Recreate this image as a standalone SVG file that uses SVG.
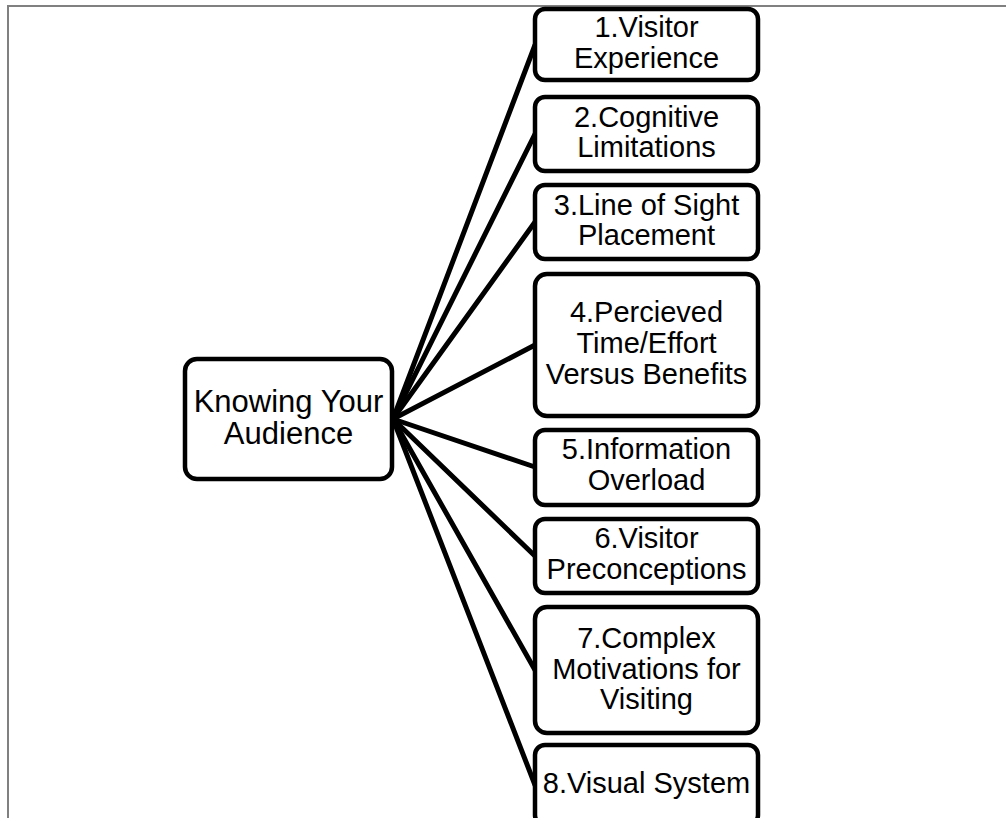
<svg xmlns="http://www.w3.org/2000/svg" width="1006" height="818" viewBox="0 0 1006 818">
<style>
.box{fill:#fff;stroke:#000;stroke-width:4.5}
.t{font-family:"Liberation Sans",Arial,sans-serif;font-size:29px;fill:#000;text-anchor:middle}
.c{font-size:31px}
.e{stroke:#000;stroke-width:5;fill:none;stroke-linecap:round}
</style>
<rect width="1006" height="818" fill="#fff"/>
<path d="M8 818 V6 H1006" fill="none" stroke="#808080" stroke-width="2"/>
<g id="connectors">
<line class="e" x1="393" y1="419" x2="535" y2="45"/>
<line class="e" x1="393" y1="419" x2="535" y2="134"/>
<line class="e" x1="393" y1="419" x2="535" y2="222"/>
<line class="e" x1="393" y1="419" x2="535" y2="345"/>
<line class="e" x1="393" y1="419" x2="535" y2="467"/>
<line class="e" x1="393" y1="419" x2="535" y2="556"/>
<line class="e" x1="393" y1="419" x2="535" y2="670"/>
<line class="e" x1="393" y1="419" x2="535" y2="785"/>
</g>
<g id="center">
<rect class="box" x="185" y="359" width="207" height="120" rx="12"/>
<text class="t c" x="288.5" y="412">Knowing Your</text>
<text class="t c" x="288.5" y="444">Audience</text>
</g>
<g id="n1">
<rect class="box" x="535" y="9" width="223" height="71" rx="10"/>
<text class="t" x="646.5" y="37">1.Visitor</text>
<text class="t" x="646.5" y="68">Experience</text>
</g>
<g id="n2">
<rect class="box" x="535" y="97" width="223" height="74" rx="10"/>
<text class="t" x="646.5" y="127">2.Cognitive</text>
<text class="t" x="646.5" y="157">Limitations</text>
</g>
<g id="n3">
<rect class="box" x="535" y="185" width="223" height="74" rx="10"/>
<text class="t" x="646.5" y="215">3.Line of Sight</text>
<text class="t" x="646.5" y="245">Placement</text>
</g>
<g id="n4">
<rect class="box" x="535" y="274" width="223" height="142" rx="12"/>
<text class="t" x="646.5" y="322">4.Percieved</text>
<text class="t" x="646.5" y="353">Time/Effort</text>
<text class="t" x="646.5" y="384">Versus Benefits</text>
</g>
<g id="n5">
<rect class="box" x="535" y="430" width="223" height="75" rx="10"/>
<text class="t" x="646.5" y="459">5.Information</text>
<text class="t" x="646.5" y="490">Overload</text>
</g>
<g id="n6">
<rect class="box" x="535" y="519" width="223" height="74" rx="10"/>
<text class="t" x="646.5" y="548">6.Visitor</text>
<text class="t" x="646.5" y="579">Preconceptions</text>
</g>
<g id="n7">
<rect class="box" x="535" y="607" width="223" height="126" rx="12"/>
<text class="t" x="646.5" y="648">7.Complex</text>
<text class="t" x="646.5" y="679">Motivations for</text>
<text class="t" x="646.5" y="709">Visiting</text>
</g>
<g id="n8">
<rect class="box" x="535" y="745" width="223" height="80" rx="10"/>
<text class="t" x="646.5" y="793">8.Visual System</text>
</g>
</svg>
